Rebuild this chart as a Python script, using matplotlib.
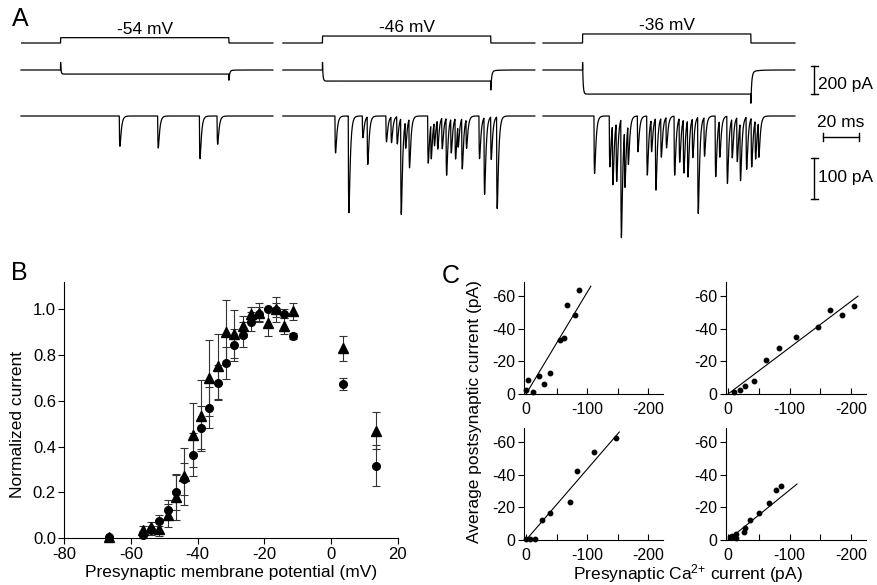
import numpy as np
import matplotlib
matplotlib.use("Agg")
import matplotlib.pyplot as plt
from matplotlib.ticker import FormatStrFormatter

plt.rcParams['font.family'] = ['Liberation Sans', 'DejaVu Sans']
plt.rcParams['axes.unicode_minus'] = False
plt.rcParams['mathtext.default'] = 'regular'
plt.rcParams['axes.linewidth'] = 0.8

W, H = 877, 585

# ---------------- data: panel A ----------------
step_labels = ["-54 mV", "-46 mV", "-36 mV"]
step_mv = [-54, -46, -36]
hold_mv = -80
step_on, step_off = 22.0, 115.5          # ms
col_start = [0.0, 145.5, 290.0]          # ms
trace_len = 140.0                        # ms

ica_level = [-29, -79, -172]             # pA
ica_on_spike = [54, 54, 54]
ica_tail = [-70, -135, -220]

epsc_t1 = [54.6, 75.9, 99.1, 108.9]
epsc_a1 = [74, 78, 104, 69]
epsc_t2 = [28.9, 36.3, 44.1, 46.8, 57.2, 60.0, 63.2, 65.4, 67.9, 70.0, 80.4, 82.1, 83.9,
           85.7, 88.2, 90.6, 93.2, 95.6, 97.1, 99.3, 101.7, 108.9, 111.7, 115.4, 118.7]
epsc_a2 = [90, 236, 53, 116, 63, 63, 67, 235, 67, 120, 115, 88, 60,
           72, 76, 140, 84, 100, 56, 124, 72, 104, 188, 104, 224]
epsc_t3 = [28.3, 36.8, 38.5, 40.6, 43.2, 45.2, 47.1, 52.4, 57.6, 60.0, 62.4, 65.4, 68.3,
           72.8, 75.6, 77.9, 80.2, 82.9, 85.9, 89.4, 95.6, 97.9, 102.1, 104.8, 107.6,
           109.4, 112.8, 115.6, 117.8, 119.6]
epsc_a3 = [140, 124, 150, 146, 290, 146, 100, 87, 144, 79, 176, 96, 75,
           144, 108, 132, 140, 96, 235, 95, 148, 91, 164, 96, 108,
           144, 128, 120, 96, 88]

# ---------------- data: panel B ----------------
tri_x = [-66.5, -56.5, -54, -51.5, -49, -46.5, -44, -41.5, -39, -36.5, -34, -31.5, -29,
         -26.5, -24, -21.5, -19, -16.5, -14, -11.5, 3.7, 13.5]
tri_y = [0.005, 0.035, 0.05, 0.04, 0.10, 0.18, 0.27, 0.45, 0.535, 0.70, 0.75, 0.90, 0.89,
         0.925, 0.98, 0.985, 0.94, 1.0, 0.925, 0.99, 0.83, 0.47]
tri_e = [0.0, 0.02, 0.02, 0.03, 0.05, 0.10, 0.125, 0.14, 0.155, 0.165, 0.14, 0.14, 0.105,
         0.045, 0.03, 0.04, 0.055, 0.055, 0.035, 0.035, 0.055, 0.08]
cir_x = [-66.5, -56.5, -54, -51.5, -49, -46.5, -44, -41.5, -39, -36.5, -34, -31.5, -29,
         -26.5, -24, -21.5, -19, -16.5, -14, -11.5, 3.7, 13.5]
cir_y = [0.005, 0.015, 0.035, 0.077, 0.125, 0.20, 0.26, 0.365, 0.483, 0.57, 0.68, 0.765,
         0.845, 0.888, 0.946, 0.98, 1.0, 0.995, 0.98, 0.883, 0.674, 0.317]
cir_e = [0.0, 0.015, 0.02, 0.025, 0.04, 0.075, 0.07, 0.095, 0.095, 0.09, 0.075, 0.07,
         0.07, 0.055, 0.04, 0.03, 0.0, 0.03, 0.02, 0.015, 0.025, 0.09]

# ---------------- data: panel C ----------------
c1_x = [0, -3.3, -11.5, -21.3, -29, -38.8, -56.3, -62.8, -67.8, -79.8, -87.4]
c1_y = [-2.5, -8.6, -1.4, -11.1, -6.4, -12.7, -33.3, -34.3, -54.9, -48.3, -64.1]
c2_x = [-10.3, -20, -27.6, -42.8, -62.3, -83.5, -110, -145.3, -164.8, -184.8, -204.3]
c2_y = [-1.0, -2.5, -4.7, -8.0, -21, -28.1, -35.3, -41.3, -51.8, -48.5, -54.2]
c3_x = [0, -7.1, -14.2, -26.2, -39.9, -71.6, -83.6, -110.9, -146.4]
c3_y = [-0.4, -0.4, -0.4, -12.3, -16.8, -23.2, -42.1, -53.8, -62.7]
c4_x = [-3.8, -7.0, -10.3, -13.6, -13.0, -25.5, -27.6, -35.2, -49.9, -67.2, -78.6, -86.2]
c4_y = [-2.1, -2.5, -1.8, -3.7, -1.2, -4.9, -7.6, -12.3, -16.4, -22.6, -30.8, -32.9]
fit_slope = [0.625, 0.285, 0.435, 0.307]
fit_xend = [-106, -211, -152.5, -112]


def box(x0, y0, x1, y1):
    return [x0 / W, 1 - y1 / H, (x1 - x0) / W, (y1 - y0) / H]


def ftext(x, y, s, **kw):
    fig.text(x / W, 1 - y / H, s, **kw)


fig = plt.figure(figsize=(W / 100, H / 100), dpi=100)

# ---------------- panel A ----------------
px_ms = 1.8
xmax = (877 - 21) / px_ms
axV = fig.add_axes(box(21, 20, 877, 55))
axI = fig.add_axes(box(21, 55, 877, 105))
axE = fig.add_axes(box(21, 105, 877, 250))
axV.set_ylim(hold_mv - 12 / 0.205, hold_mv + 23 / 0.205)
axI.set_ylim(-35 / 0.14, 15 / 0.14)
axE.set_ylim(-134 / 0.41, 11 / 0.41)
for ax in (axV, axI, axE):
    ax.set_xlim(0, xmax)
    ax.axis('off')

t = np.arange(0, trace_len, 0.05)
tr, td = 0.2, 0.75
kt = np.arange(0, 10, 0.05)
kern = np.exp(-kt / td) - np.exp(-kt / tr)
kern /= kern.max()
ev_times = [epsc_t1, epsc_t2, epsc_t3]
ev_amps = [epsc_a1, epsc_a2, epsc_a3]

for i in range(3):
    x = col_start[i] + t
    v = np.where((t >= step_on) & (t < step_off), step_mv[i], hold_mv)
    axV.plot(x, v, color='black', lw=0.9)
    axV.text(col_start[i] + (step_on + step_off) / 2, step_mv[i] + 20, step_labels[i],
             ha='center', va='baseline', fontsize=12.5)

    cur = np.zeros_like(t)
    on = (t >= step_on) & (t < step_off)
    d = t[on] - step_on
    cur[on] = ica_level[i] * (1 - np.exp(-d / 0.35)) + ica_on_spike[i] * np.exp(-d / 0.2)
    off = t >= step_off
    d = t[off] - step_off
    cur[off] = ica_tail[i] * np.exp(-d / 0.45) + 0.1 * ica_level[i] * np.exp(-d / 3.0)
    axI.plot(x, cur, color='black', lw=0.9, clip_on=False)

    syn = np.zeros_like(t)
    for et, ea in zip(ev_times[i], ev_amps[i]):
        k0 = int(round(et / 0.05))
        n = min(len(kern), len(t) - k0)
        syn[k0:k0 + n] -= ea * kern[:n]
    axE.plot(x, syn, color='black', lw=0.9, clip_on=False)

# scale bars
xb = (814 - 21) / px_ms
cw_l, cw_r = 3.3 / px_ms, 4.3 / px_ms
axI.plot([xb, xb], [28.6, -171.4], color='black', lw=1.0)
for yy in (28.6, -171.4):
    axI.plot([xb - cw_l, xb + cw_r], [yy, yy], color='black', lw=1.0)
axI.text(xb + 2.2, -100, "200 pA", ha='left', va='center', fontsize=12.5)

axE.plot([xb, xb], [-102.4, -202.4], color='black', lw=1.0)
for yy in (-102.4, -202.4):
    axE.plot([xb - cw_l, xb + cw_r], [yy, yy], color='black', lw=1.0)
axE.text(xb + 2.2, -150.5, "100 pA", ha='left', va='center', fontsize=12.5)

x20 = (823 - 21) / px_ms
axE.plot([x20, x20 + 20], [-50.5, -50.5], color='black', lw=1.0)
for xx in (x20, x20 + 20):
    axE.plot([xx, xx], [-40.7, -60.3], color='black', lw=1.0)
axE.text(x20 + 10, -16.3, "20 ms", ha='center', va='center', fontsize=12.5)

# ---------------- panel B ----------------
axB = fig.add_axes(box(64.3, 281.7, 397.7, 538.3))
axB.errorbar(tri_x, tri_y, yerr=tri_e, fmt='^', color='black', ms=6.5,
             ecolor='#333333', elinewidth=0.8, capsize=2.6, capthick=0.8, clip_on=False)
axB.errorbar(cir_x, cir_y, yerr=cir_e, fmt='o', color='black', ms=5.5,
             ecolor='#333333', elinewidth=0.8, capsize=2.6, capthick=0.8, clip_on=False)
axB.set_xlim(-80, 20)
axB.set_ylim(0, 1.12)
axB.set_xticks([-80, -60, -40, -20, 0, 20])
axB.set_yticks([0, 0.2, 0.4, 0.6, 0.8, 1.0])
axB.yaxis.set_major_formatter(FormatStrFormatter('%.1f'))
for s in ('top', 'right'):
    axB.spines[s].set_visible(False)
axB.tick_params(direction='out', length=4, width=0.8, labelsize=12, pad=2)
ftext(18, 425, "Normalized current", rotation=90, ha='center', va='center', fontsize=12.5)
ftext(231, 573, "Presynaptic membrane potential (mV)", ha='center', va='center', fontsize=12.5)

# ---------------- panel C ----------------
c_boxes = [(524, 281.7, 663, 394), (726, 281.7, 866, 394),
           (524, 427.7, 663, 540), (726, 427.7, 866, 540)]
c_x = [c1_x, c2_x, c3_x, c4_x]
c_y = [c1_y, c2_y, c3_y, c4_y]
for j in range(4):
    ax = fig.add_axes(box(*c_boxes[j]))
    ax.plot(c_x[j], c_y[j], 'o', color='black', ms=3.2, clip_on=False)
    lx = np.array([0, fit_xend[j]])
    ax.plot(lx, fit_slope[j] * lx, color='black', lw=0.8, clip_on=False)
    ax.set_xlim(3.3, -224)
    ax.set_ylim(0, -69)
    ax.set_xticks([0, -100, -200])
    ax.set_xticks([-50, -150], minor=True)
    ax.set_yticks([0, -20, -40, -60])
    for s in ('top', 'right'):
        ax.spines[s].set_visible(False)
    ax.tick_params(axis='y', direction='out', length=4, width=0.8, labelsize=11.5, pad=2)
    ax.tick_params(axis='x', which='both', direction='in', length=4, width=0.8,
                   labelsize=11.5, pad=6)
ftext(474.3, 411.7, "Average postsynaptic current (pA)", rotation=90, ha='center',
      va='center', fontsize=12.5)
ftext(687.5, 573.3, "Presynaptic Ca$^{2{+}}$ current (pA)", ha='center', va='center',
      fontsize=12.5)

# panel letters
ftext(20, 19, "A", ha='center', va='center', fontsize=18)
ftext(19.5, 273.5, "B", ha='center', va='center', fontsize=18)
ftext(451, 276, "C", ha='center', va='center', fontsize=18)

fig.savefig("out.png", dpi=100)
